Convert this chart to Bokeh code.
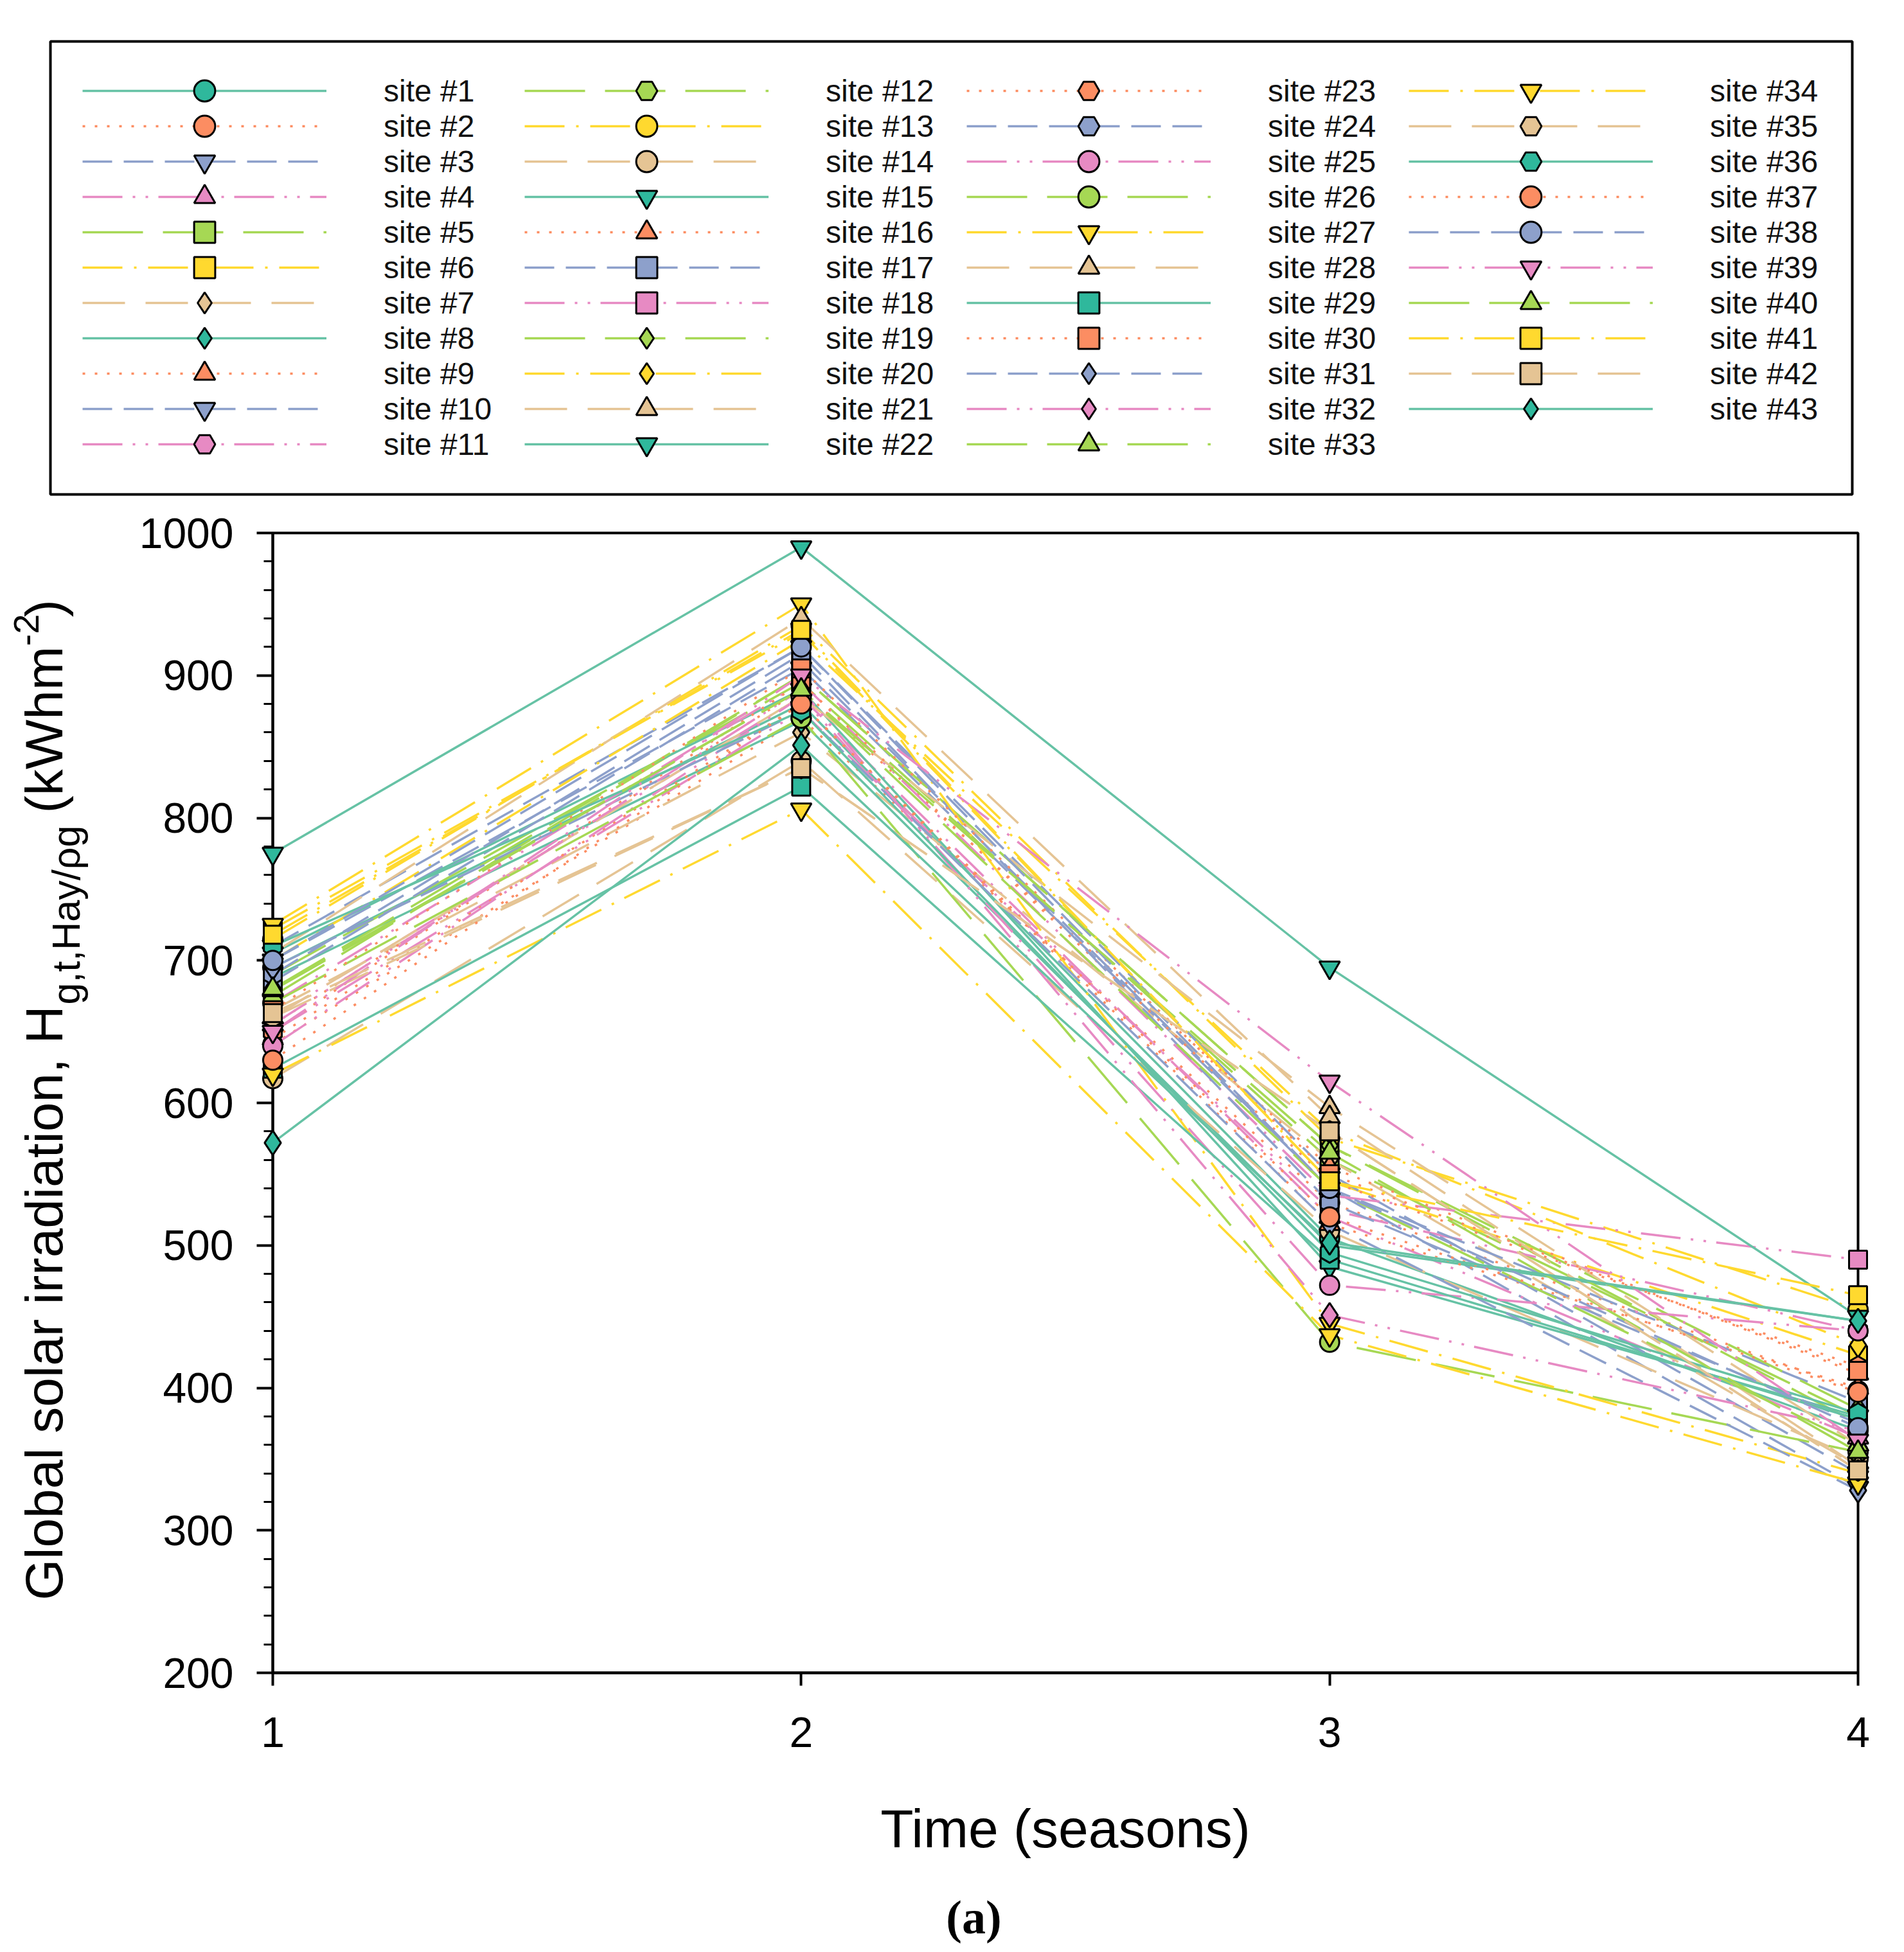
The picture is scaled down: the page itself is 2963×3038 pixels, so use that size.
import math
from bokeh.plotting import figure
from bokeh.models import (Range1d, Legend, LegendItem, Label, LinearAxis, BoxAnnotation,
                          SingleIntervalTicker, FixedTicker)
from bokeh.embed import file_html
from bokeh.resources import INLINE

# ---------------- data ----------------
seasons = [1, 2, 3, 4]
site_labels = [f"site #{i}" for i in range(1, 44)]

season1 = [695, 641, 700, 660, 690, 722, 665, 688, 655, 710, 650, 675, 715, 617, 705,
           645, 685, 670, 680, 700, 660, 775, 650, 690, 640, 670, 725, 705, 624, 665,
           695, 655, 679, 620, 660, 710, 630, 700, 650, 680, 718, 663, 572]
season2 = [880, 870, 905, 885, 895, 930, 860, 868, 890, 920, 875, 900, 935, 840, 890,
           880, 910, 895, 900, 925, 885, 990, 895, 915, 885, 870, 950, 940, 822, 905,
           875, 890, 890, 806, 835, 875, 880, 920, 900, 890, 932, 835, 851]
season3 = [505, 530, 540, 520, 560, 545, 560, 500, 555, 550, 525, 570, 575, 510, 485,
           515, 540, 535, 570, 580, 597, 695, 545, 530, 472, 432, 445, 590, 490, 550,
           515, 451, 540, 437, 580, 495, 520, 540, 615, 565, 545, 580, 502]
season4 = [370, 398, 330, 365, 380, 423, 345, 447, 410, 340, 440, 375, 455, 350, 380,
           400, 390, 490, 385, 430, 360, 450, 415, 375, 440, 355, 340, 345, 378, 412,
           328, 370, 360, 333, 342, 382, 397, 372, 363, 355, 465, 342, 447]

x_ticks = [1, 2, 3, 4]
y_limits = [200, 1000]

# ---------------- styles ----------------
line_colors = ["#66c2a5", "#fc8d62", "#8da0cb", "#e78ac3", "#a6d854", "#ffd92f", "#e5c494"]
fill_colors = ["#2fb89c", "#fc8d62", "#8da0cb", "#e78ac3", "#a6d854", "#ffd92f", "#e5c494"]
dashes = ["solid", "4 15", "46 18", "62 16 4 16 4 16", "94 31", "62 18 4 18", "66 32"]
marker_cycle = ["circle", "circle", "inverted_triangle", "triangle", "square", "square",
                "diamond", "diamond", "triangle", "inverted_triangle", "hex", "hex"]
marker_size = {"circle": 30, "square": 28, "triangle": 32, "inverted_triangle": 32,
               "diamond": 38, "hex": 32}
FONT = "Liberation Sans"
MID = 0.35   # distance from alphabetic baseline to the 'middle' anchor, in em

# ---------------- layout constants (page pixels) ----------------
W, H = 2955, 3030
OX, OY = 0, 0
PLOT_L, PLOT_R, PLOT_T, PLOT_B = 424, 2891, 829, 2603   # where the data box sits


def sx(px):          # page x -> screen units (from frame left)
    return px - OX


def sy(py):          # page y -> screen units (from frame bottom, upward)
    return (OY + H) - py


x_lo, x_hi = x_ticks[0], x_ticks[-1]
y_lo, y_hi = y_limits
kx = (x_hi - x_lo) / (PLOT_R - PLOT_L)
ky = (y_hi - y_lo) / (PLOT_B - PLOT_T)
x_range = Range1d(x_lo + (OX - PLOT_L) * kx, x_lo + (OX + W - PLOT_L) * kx)
y_range = Range1d(y_hi - (OY + H - PLOT_T) * ky, y_hi + (PLOT_T - OY) * ky)

p = figure(width=W, height=H, min_border=0,
           x_range=x_range, y_range=y_range,
           x_axis_location=None, y_axis_location=None,
           output_backend="svg", toolbar_location=None)
p.grid.visible = False
p.outline_line_color = None
p.background_fill_color = "white"
p.border_fill_color = "white"

# plot box
p.add_layout(BoxAnnotation(left=x_lo, right=x_hi, bottom=y_lo, top=y_hi,
                           fill_color=None, fill_alpha=0,
                           line_color="black", line_alpha=1, line_width=4,
                           level="underlay"))

# axes at fixed data locations
xaxis = LinearAxis(fixed_location=y_lo, bounds=(x_lo, x_hi), ticker=FixedTicker(ticks=x_ticks))
yaxis = LinearAxis(fixed_location=x_lo, bounds=(y_lo, y_hi),
                   ticker=SingleIntervalTicker(interval=100, num_minor_ticks=5))
for ax in (xaxis, yaxis):
    ax.level = "underlay"
    ax.axis_line_width = 4
    ax.axis_line_color = "black"
    ax.major_tick_line_width = 4
    ax.major_tick_line_color = "black"
    ax.major_tick_in = 0
    ax.minor_tick_in = 0
    ax.minor_tick_line_width = 3
    ax.minor_tick_line_color = "black"
    ax.major_label_text_font = FONT
    ax.major_label_text_font_size = "66px"
    ax.major_label_text_color = "black"
yaxis.major_tick_out = 25
yaxis.minor_tick_out = 14
yaxis.major_label_standoff = 36
xaxis.major_tick_out = 20
xaxis.minor_tick_out = 0
xaxis.major_label_standoff = 49
xaxis.axis_label = "Time (seasons)"
xaxis.axis_label_text_font = FONT
xaxis.axis_label_text_font_size = "84px"
xaxis.axis_label_text_font_style = "normal"
xaxis.axis_label_text_color = "black"
xaxis.axis_label_standoff = 77
p.add_layout(xaxis, "below")
p.add_layout(yaxis, "left")

# composite y-axis title (rotated): text, baseline x (page), start y (page), font px
ylab_parts = [
    ("Global solar irradiation, H", 97, 2490, 82),
    ("g,t,Hay/\u03c1g", 124, 1563, 61),
    ("(kWhm", 97, 1265, 82),
    ("-2", 60, 1005, 56),
    (")", 97, 960, 82),
]
for txt, bx, py, fs in ylab_parts:
    p.add_layout(Label(x=sx(bx - MID * fs), y=sy(py), x_units="screen", y_units="screen",
                       text=txt, angle=math.pi / 2, angle_units="rad",
                       text_align="left", text_baseline="middle",
                       text_font=FONT, text_font_size=f"{fs}px", text_color="black"))

p.add_layout(Label(x=sx(1515), y=sy(3009 - MID * 74), x_units="screen", y_units="screen",
                   text="(a)", text_align="center", text_baseline="middle",
                   text_font="Liberation Serif", text_font_style="bold",
                   text_font_size="74px", text_color="black"))

# ---------------- data series ----------------
n_sites = len(site_labels)
series = list(zip(season1, season2, season3, season4))

line_r = []
for i in range(n_sites):
    c = i % 7
    line_r.append(p.line(seasons, list(series[i]), line_color=line_colors[c],
                         line_width=3.5, line_dash=dashes[c]))
mark_r = []
for i in range(n_sites):
    c = i % 7
    m = marker_cycle[i % 12]
    mark_r.append(p.scatter(seasons, list(series[i]), marker=m, size=marker_size[m],
                            fill_color=fill_colors[c], line_color="black", line_width=3,
                            angle=(math.pi / 2 if m == "hex" else 0)))

# ---------------- legend (one entry per Legend, placed in a 4-column grid) ----------------
LEG_BOX = (78, 2882, 64, 769)           # left, right, top, bottom (page)
p.add_layout(BoxAnnotation(left=sx(LEG_BOX[0]), right=sx(LEG_BOX[1]),
                           top=sy(LEG_BOX[2]), bottom=sy(LEG_BOX[3]),
                           left_units="screen", right_units="screen",
                           top_units="screen", bottom_units="screen",
                           fill_color=None, fill_alpha=0,
                           line_color="black", line_alpha=1, line_width=4))
GH = 82
ROW0, ROW_STEP = 141, 55
COL0, COL_STEP = 128, 688
for i in range(n_sites):
    col, row = divmod(i, 11)
    cy = ROW0 + ROW_STEP * row
    item = LegendItem(label=site_labels[i], renderers=[line_r[i], mark_r[i]])
    leg = Legend(items=[item], location=(sx(COL0 + COL_STEP * col), sy(cy) - GH / 2),
                 glyph_width=380, glyph_height=GH, label_standoff=89, spacing=0,
                 padding=0, margin=0, label_width=20, label_height=20,
                 label_text_font=FONT, label_text_font_size="48px",
                 label_text_color="#111111",
                 border_line_color=None, background_fill_alpha=0)
    p.add_layout(leg, "center")

open("out.html", "w").write(file_html(p, INLINE))
